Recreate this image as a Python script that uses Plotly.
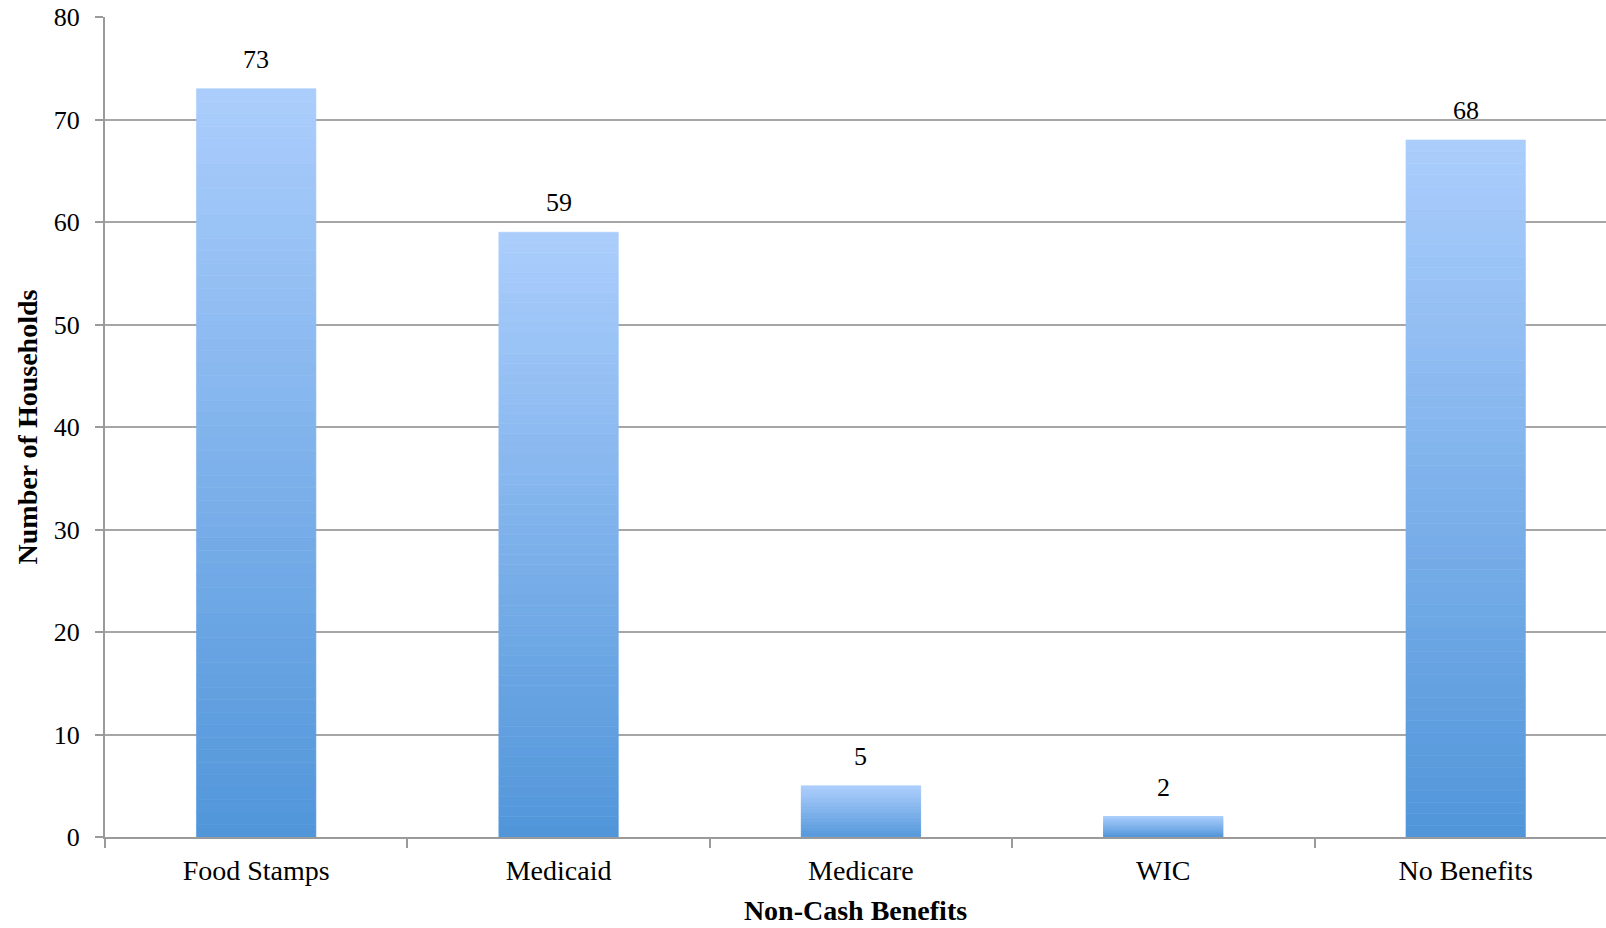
import plotly.graph_objects as go

categories = ["Food Stamps", "Medicaid", "Medicare", "WIC", "No Benefits"]
households = [73, 59, 5, 2, 68]

top_rgb = (170, 205, 252)
bottom_rgb = (82, 150, 218)
n_layers = 60

fig = go.Figure()

# vertical gradient per bar: stack thin slices of each bar
for k in range(n_layers):
    t = k / (n_layers - 1)
    r, g, b = (round(bottom_rgb[i] + (top_rgb[i] - bottom_rgb[i]) * t) for i in range(3))
    col = f"rgb({r},{g},{b})"
    fig.add_trace(go.Bar(
        x=categories,
        y=[v / n_layers for v in households],
        base=[v * k / n_layers for v in households],
        marker=dict(color=col, line=dict(width=0.6, color=col)),
        width=0.395,
        hoverinfo="skip",
        showlegend=False,
    ))

for cat, val in zip(categories, households):
    fig.add_annotation(x=cat, y=val, text=str(val), showarrow=False,
                       yanchor="bottom", yshift=13,
                       font=dict(family="Liberation Serif", size=26, color="black"))

fig.update_layout(
    barmode="overlay",
    width=1606, height=928,
    margin=dict(l=105, r=0, t=17, b=91),
    plot_bgcolor="white", paper_bgcolor="white",
    font=dict(family="Liberation Serif", size=26, color="black"),
)
fig.update_xaxes(
    range=[-0.5, 4.464],
    automargin=False,
    showline=True, linecolor="#9a9a9a", linewidth=2,
    ticks="outside", tickson="boundaries", ticklen=9, tickcolor="#9a9a9a", tickwidth=1.5,
    ticklabelstandoff=7,
    tickfont=dict(size=28),
    showgrid=False,
    title=dict(text="<b>Non-Cash Benefits</b>", standoff=16,
               font=dict(family="Liberation Serif", size=28)),
)
fig.update_yaxes(
    range=[0, 80], dtick=10,
    automargin=False,
    showline=True, linecolor="#9a9a9a", linewidth=2,
    ticks="outside", ticklen=8, tickcolor="#9a9a9a", tickwidth=1.5,
    ticklabelstandoff=10, ticklabeloverflow="allow",
    showgrid=True, gridcolor="#a6a6a6", gridwidth=1.5,
    zeroline=False,
    title=dict(text="<b>Number of Households</b>", standoff=8,
               font=dict(family="Liberation Serif", size=28)),
)

# drop the default 8px body margin so the figure fills the window
fig.write_html("out.html",
               config={"displayModeBar": False},
               post_script="document.body.style.margin='0';document.body.style.overflow='hidden';")
